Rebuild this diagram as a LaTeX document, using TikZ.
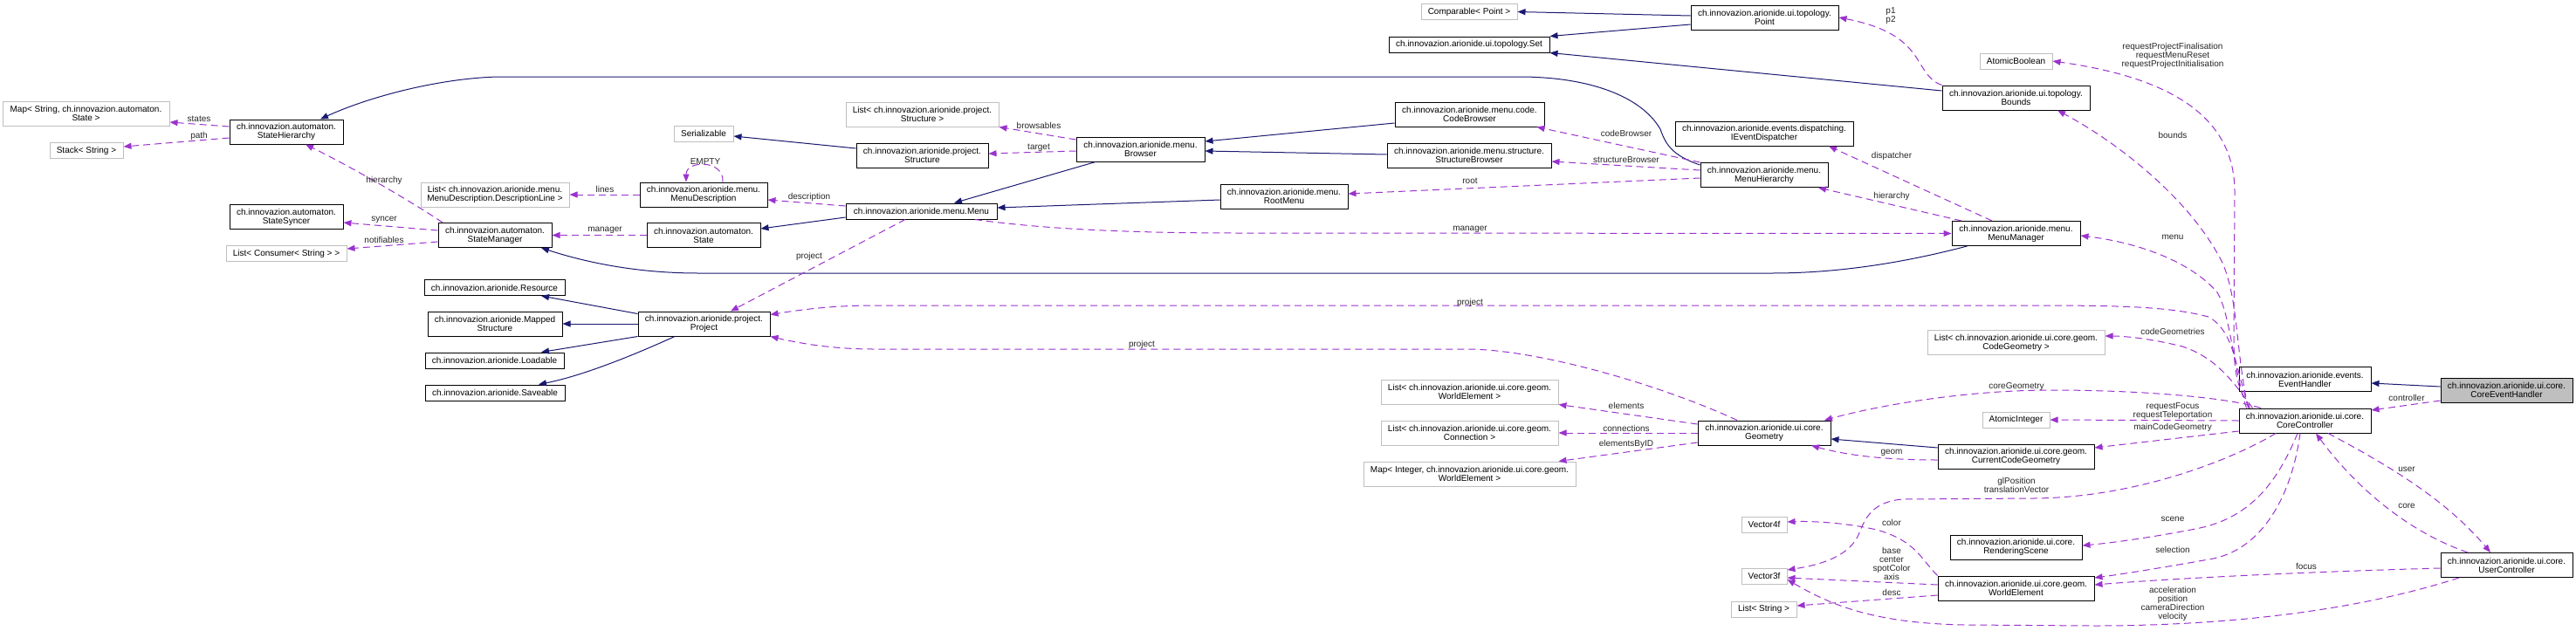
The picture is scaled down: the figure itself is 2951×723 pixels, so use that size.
\documentclass[tikz,border=0pt]{standalone}
\usepackage{fontspec}
\setmainfont{Liberation Sans}
\usetikzlibrary{arrows.meta}
\definecolor{inhblue}{HTML}{191970}
\definecolor{usepurple}{HTML}{9A32CD}
\definecolor{extgray}{HTML}{BFBFBF}

\begin{document}
\begin{tikzpicture}[x=1pt, y=-1pt,
    every node/.style={font=\fontsize{10}{10}\selectfont, align=center},
    cls/.style={draw=black, fill=white, line width=1pt, inner sep=0pt, minimum height=28pt},
    ext/.style={cls, draw=extgray},
    cur/.style={cls, fill=extgray},
    single/.style={minimum height=18pt},
    inherit/.style={draw=inhblue, line width=1pt, -{Triangle[length=9pt,width=7pt]}},
    uses/.style={draw=usepurple, line width=1pt, dash pattern=on 8pt off 5pt, -{Triangle[length=9pt,width=7pt]}},
    lbl/.style={inner sep=0pt, text=black!85}]

    \useasboundingbox (0,0) rectangle (2951,723);

    % automaton
    \node[ext, minimum width=191pt] (mapstate) at (98.5,130) {Map< String, ch.innovazion.automaton.\\State >};
    \node[ext, single, minimum width=84pt] (stack) at (99,172.5) {Stack< String >};
    \node[cls, minimum width=130pt] (sthier) at (328,151) {ch.innovazion.automaton.\\StateHierarchy};
    \node[cls, minimum width=130pt] (ssync) at (328,248.5) {ch.innovazion.automaton.\\StateSyncer};
    \node[ext, single, minimum width=138pt] (consumers) at (328,290.5) {List< Consumer< String > >};
    \node[cls, minimum width=130pt] (smgr) at (567,269.5) {ch.innovazion.automaton.\\StateManager};
    \node[cls, minimum width=130pt] (state) at (806,269.5) {ch.innovazion.automaton.\\State};

    % menu
    \node[ext, single, minimum width=68pt] (serial) at (806,153) {Serializable};
    \node[cls, minimum width=146pt] (mdesc) at (806,223) {ch.innovazion.arionide.menu.\\MenuDescription};
    \node[ext, minimum width=170pt] (dline) at (567,223) {List< ch.innovazion.arionide.menu.\\MenuDescription.DescriptionLine >};
    \node[ext, minimum width=175pt] (structlist) at (1056.5,131) {List< ch.innovazion.arionide.project.\\Structure >};
    \node[cls, minimum width=151pt] (structure) at (1056.5,178) {ch.innovazion.arionide.project.\\Structure};
    \node[cls, minimum width=147pt] (browser) at (1306.5,171) {ch.innovazion.arionide.menu.\\Browser};
    \node[cls, single, minimum width=173pt] (menu) at (1055.5,242) {ch.innovazion.arionide.menu.Menu};
    \node[cls, minimum width=146pt] (rootmenu) at (1471,225) {ch.innovazion.arionide.menu.\\RootMenu};
    \node[cls, minimum width=171pt] (codebr) at (1683.5,131) {ch.innovazion.arionide.menu.code.\\CodeBrowser};
    \node[cls, minimum width=188pt] (structbr) at (1683,178) {ch.innovazion.arionide.menu.structure.\\StructureBrowser};
    \node[cls, minimum width=146pt] (menuhier) at (2021,200.5) {ch.innovazion.arionide.menu.\\MenuHierarchy};
    \node[cls, minimum width=204pt] (dispatcher) at (2021,153) {ch.innovazion.arionide.events.dispatching.\\IEventDispatcher};
    \node[cls, minimum width=147pt] (menumgr) at (2309.5,267.5) {ch.innovazion.arionide.menu.\\MenuManager};

    % project
    \node[cls, single, minimum width=161pt] (resource) at (566.5,329.5) {ch.innovazion.arionide.Resource};
    \node[cls, minimum width=154pt] (mapped) at (567,371) {ch.innovazion.arionide.Mapped\\Structure};
    \node[cls, minimum width=151pt] (project) at (806.5,371) {ch.innovazion.arionide.project.\\Project};
    \node[cls, single, minimum width=159pt] (loadable) at (566.5,413) {ch.innovazion.arionide.Loadable};
    \node[cls, single, minimum width=160pt] (saveable) at (567,450) {ch.innovazion.arionide.Saveable};

    % topology
    \node[ext, single, minimum width=110pt] (comparable) at (1683,13.5) {Comparable< Point >};
    \node[cls, single, minimum width=184pt] (set) at (1683,51) {ch.innovazion.arionide.ui.topology.Set};
    \node[cls, minimum width=169pt] (point) at (2021.5,20) {ch.innovazion.arionide.ui.topology.\\Point};
    \node[cls, minimum width=169pt] (bounds) at (2309.5,112) {ch.innovazion.arionide.ui.topology.\\Bounds};
    \node[ext, single, minimum width=83pt] (atombool) at (2309.5,70) {AtomicBoolean};

    % ui.core
    \node[ext, minimum width=203pt] (welist) at (1683.5,449) {List< ch.innovazion.arionide.ui.core.geom.\\WorldElement >};
    \node[ext, minimum width=203pt] (connlist) at (1683.5,496) {List< ch.innovazion.arionide.ui.core.geom.\\Connection >};
    \node[ext, minimum width=243pt] (wemap) at (1683.5,543) {Map< Integer, ch.innovazion.arionide.ui.core.geom.\\WorldElement >};
    \node[cls, minimum width=152pt] (geometry) at (2021,496) {ch.innovazion.arionide.ui.core.\\Geometry};
    \node[ext, minimum width=203pt] (cgeolist) at (2309.5,392.5) {List< ch.innovazion.arionide.ui.core.geom.\\CodeGeometry >};
    \node[ext, single, minimum width=77pt] (atomint) at (2309.5,481) {AtomicInteger};
    \node[cls, minimum width=179pt] (curcode) at (2309.5,523) {ch.innovazion.arionide.ui.core.geom.\\CurrentCodeGeometry};
    \node[ext, single, minimum width=52pt] (vecfour) at (2021,601) {Vector4f};
    \node[cls, minimum width=151pt] (scene) at (2309.5,627) {ch.innovazion.arionide.ui.core.\\RenderingScene};
    \node[ext, single, minimum width=52pt] (vecthree) at (2021,660) {Vector3f};
    \node[cls, minimum width=179pt] (worldel) at (2309.5,674) {ch.innovazion.arionide.ui.core.geom.\\WorldElement};
    \node[ext, single, minimum width=75pt] (strlist) at (2020.5,698) {List< String >};
    \node[cls, minimum width=151pt] (evhandler) at (2640.5,434.5) {ch.innovazion.arionide.events.\\EventHandler};
    \node[cur, minimum width=151pt] (cevhandler) at (2871.5,447) {ch.innovazion.arionide.ui.core.\\CoreEventHandler};
    \node[cls, minimum width=151pt] (corectrl) at (2640.5,482) {ch.innovazion.arionide.ui.core.\\CoreController};
    \node[cls, minimum width=151pt] (userctrl) at (2871.5,647.5) {ch.innovazion.arionide.ui.core.\\UserController};

    % inheritance
    \draw[inherit] ([yshift=-3pt]menuhier.north west) .. controls (1915,178) and (1908,165) .. (1902,148)
        .. controls (1880,110) and (1820,88) .. (1740,88) -- (570,88)
        .. controls (500,90) and (420,112) .. ([xshift=39pt]sthier.north);
    \draw[inherit] ([xshift=-56pt]menumgr.south) .. controls (2200,296) and (2120,313) .. (2030,313) -- (800,313)
        .. controls (720,313) and (660,297) .. ([xshift=53pt]smgr.south);
    \draw[inherit] ([xshift=-51.5pt]browser.south) -- ([xshift=37.5pt]menu.north);
    \draw[inherit] ([yshift=-4pt]rootmenu.west) -- ([yshift=4pt]menu.east);
    \draw[inherit] ([yshift=-7pt]menu.west) -- ([yshift=7.5pt]state.east);
    \draw[inherit] ([yshift=8pt]structure.west) -- ([yshift=-3pt]serial.east);
    \draw[inherit] ([yshift=-10pt]codebr.west) -- ([yshift=9pt]browser.east);
    \draw[inherit] ([yshift=1pt]structbr.west) -- ([yshift=-2pt]browser.east);
    \draw[inherit] ([yshift=2pt]point.west) -- (comparable.east);
    \draw[inherit] ([yshift=-8pt]point.west) -- (set.north east);
    \draw[inherit] ([yshift=8pt]bounds.west) -- (set.south east);
    \draw[inherit] ([yshift=-3pt]project.north west) -- ([xshift=53.5pt]resource.south);
    \draw[inherit] (project.west) -- (mapped.east);
    \draw[inherit] (project.south west) -- ([xshift=53.5pt]loadable.north);
    \draw[inherit] ([xshift=-33.5pt]project.south) .. controls (730,405) and (670,430) .. ([xshift=50pt]saveable.north);
    \draw[inherit] ([yshift=10pt]curcode.west) -- ([yshift=-7pt]geometry.east);
    \draw[inherit] ([yshift=4pt]cevhandler.west) -- ([yshift=-4.5pt]evhandler.east);

    % members
    \draw[uses] ([yshift=6pt]sthier.west) -- ([yshift=-10pt]mapstate.east);
    \draw[uses] ([yshift=-7pt]sthier.west) -- ([yshift=4.5pt]stack.east);
    \draw[uses] ([xshift=-60pt]smgr.north) .. controls (470,230) and (400,190) .. ([xshift=22pt]sthier.south);
    \draw[uses] ([yshift=5.5pt]smgr.west) -- ([yshift=-6.5pt]ssync.east);
    \draw[uses] ([yshift=-7.5pt]smgr.west) -- ([yshift=5.5pt]consumers.east);
    \draw[uses] (mdesc.west) -- (dline.east);
    \draw[uses] ([xshift=22pt]mdesc.north) .. controls (830,183) and (786,183) .. ([xshift=-20pt]mdesc.north);
    \draw[uses] ([yshift=6pt]menu.west) -- ([yshift=-6pt]mdesc.east);
    \draw[uses] (state.west) -- (smgr.east);
    \draw[uses] ([xshift=-18.5pt]menu.south) -- ([xshift=30.5pt]project.north);
    \draw[uses] ([yshift=11pt]browser.west) -- (structlist.south east);
    \draw[uses] ([yshift=-2pt]browser.west) -- ([yshift=2pt]structure.east);
    \draw[uses] (menuhier.north west) -- ([xshift=-9pt]codebr.south east);
    \draw[uses] ([yshift=5.5pt]menuhier.west) -- ([yshift=-7pt]structbr.east);
    \draw[uses] ([yshift=-3.5pt]menuhier.west) -- ([yshift=3pt]rootmenu.east);
    \draw[uses] ([xshift=61.5pt]menu.south) .. controls (1200,263) and (1300,267) .. (1420,267) -- (menumgr.west);
    \draw[uses] ([xshift=-27.5pt]menumgr.north) -- ([xshift=74pt]dispatcher.south);
    \draw[uses] ([xshift=-62.5pt]menumgr.north) -- ([xshift=62pt]menuhier.south);
    \draw[uses] (bounds.north west) .. controls (2190,85) and (2210,40) .. (point.east);

    % CoreController fan
    \draw[uses] ([xshift=-63pt]corectrl.north) .. controls (2560,440) and (2559,420) .. (2559,380) -- (2560,220)
        .. controls (2560,130) and (2480,88) .. (atombool.east);
    \draw[uses] ([xshift=-65pt]corectrl.north) .. controls (2560,400) and (2565,330) .. (2540,290)
        .. controls (2500,220) and (2420,160) .. ([xshift=47.5pt]bounds.south);
    \draw[uses] ([xshift=-67pt]corectrl.north) .. controls (2558,420) and (2555,360) .. (2540,335)
        .. controls (2510,300) and (2450,278) .. ([yshift=-2.5pt]menumgr.east);
    \draw[uses] ([xshift=-64pt]corectrl.north) .. controls (2560,420) and (2560,380) .. (2530,363)
        .. controls (2480,350) and (2420,350) .. (2300,350) -- (1000,350)
        .. controls (950,350) and (910,356) .. ([yshift=-4pt]project.north east);
    \draw[uses] ([xshift=-60pt]corectrl.north) .. controls (2560,440) and (2540,410) .. (2500,397)
        .. controls (2460,387) and (2430,385) .. ([yshift=7.5pt]cgeolist.east);
    \draw[uses] ([xshift=-50.5pt]corectrl.north) .. controls (2550,455) and (2450,447) .. (2350,447)
        .. controls (2250,447) and (2150,465) .. ([xshift=69pt]geometry.north);
    \draw[uses] (corectrl.west) -- (atomint.east);
    \draw[uses] ([yshift=-12pt]corectrl.west) -- ([yshift=10pt]curcode.east);
    \draw[uses] ([xshift=-33.5pt]corectrl.south) .. controls (2560,525) and (2450,570) .. (2330,571) -- (2180,572)
        .. controls (2140,575) and (2135,600) .. (2128,615)
        .. controls (2115,640) and (2080,648) .. ([yshift=7pt]vecthree.east);
    \draw[uses] ([xshift=-8.5pt]corectrl.south) .. controls (2610,550) and (2580,592) .. (2520,605)
        .. controls (2470,615) and (2420,622) .. ([yshift=2pt]scene.east);
    \draw[uses] ([xshift=-5.5pt]corectrl.south) .. controls (2625,570) and (2590,632) .. (2530,641)
        .. controls (2480,650) and (2430,658) .. ([yshift=12pt]worldel.east);
    \draw[uses] ([yshift=-3.5pt]userctrl.west) .. controls (2650,655) and (2500,662) .. ([yshift=4pt]worldel.east);
    \draw[uses] ([xshift=-54.5pt]userctrl.south) .. controls (2700,700) and (2550,717) .. (2400,717) -- (2250,716)
        .. controls (2150,714) and (2100,695) .. ([yshift=-4pt]vecthree.east);
    \draw[uses] ([xshift=-44.5pt]userctrl.north) .. controls (2760,610) and (2700,560) .. ([xshift=12.5pt]corectrl.south);
    \draw[uses] ([xshift=26.5pt]corectrl.south) .. controls (2730,530) and (2800,570) .. ([xshift=-18.5pt]userctrl.north);
    \draw[uses] ([yshift=-12pt]cevhandler.west) -- ([yshift=12pt]corectrl.east);

    % geometry
    \draw[uses] ([yshift=-4pt]curcode.west) .. controls (2150,527) and (2110,520) .. ([xshift=54pt]geometry.south);
    \draw[uses] ([yshift=10pt]geometry.west) -- (welist.south east);
    \draw[uses] (geometry.west) -- (connlist.east);
    \draw[uses] ([yshift=-11pt]geometry.west) -- ([xshift=-20pt]wemap.north east);
    \draw[uses] ([xshift=-31pt]geometry.north) .. controls (1900,440) and (1760,400) .. (1680,400) -- (1000,400)
        .. controls (950,400) and (910,392) .. (project.south east);
    \draw[uses] (worldel.north west) .. controls (2200,640) and (2195,620) .. (2150,607)
        .. controls (2110,598) and (2070,597) .. ([yshift=3pt]vecfour.east);
    \draw[uses] ([yshift=4pt]worldel.west) -- ([yshift=-2pt]vecthree.east);
    \draw[uses] ([yshift=-8pt]worldel.west) -- ([yshift=4pt]strlist.east);

    % labels
    \node[lbl] (lstates) at (228,136) {states};
    \node[lbl] (lpath) at (228,156) {path};
    \node[lbl] (lhier) at (440,207) {hierarchy};
    \node[lbl] (lsyncer) at (440,252) {syncer};
    \node[lbl] (lnotif) at (440,275) {notifiables};
    \node[lbl] (llines) at (693,217) {lines};
    \node[lbl] (lempty) at (808,185) {EMPTY};
    \node[lbl] (ldesc) at (927,226) {description};
    \node[lbl] (lmanager) at (693,264) {manager};
    \node[lbl] (lprojmenu) at (927,294) {project};
    \node[lbl] (lbrows) at (1190,144) {browsables};
    \node[lbl] (ltarget) at (1190,169) {target};
    \node[lbl] (lcodebr) at (1863,153) {codeBrowser};
    \node[lbl] (lstructbr) at (1863,183) {structureBrowser};
    \node[lbl] (lroot) at (1684,207) {root};
    \node[lbl] (lmenumgr) at (1684,263) {manager};
    \node[lbl] (lprojcore) at (1684,347) {project};
    \node[lbl] (lp) at (2166,18) {p1\\p2};
    \node[lbl] (ldispatch) at (2167,179) {dispatcher};
    \node[lbl] (lmhier) at (2167,225) {hierarchy};
    \node[lbl] (lrequests) at (2489,64) {requestProjectFinalisation\\requestMenuReset\\requestProjectInitialisation};
    \node[lbl] (lbounds) at (2489,155) {bounds};
    \node[lbl] (lmenu) at (2489,272) {menu};
    \node[lbl] (lprojgeo) at (1308,395) {project};
    \node[lbl] (lelements) at (1863,465) {elements};
    \node[lbl] (lconn) at (1863,491) {connections};
    \node[lbl] (lbyid) at (1863,509) {elementsByID};
    \node[lbl] (lcodegeos) at (2489,380) {codeGeometries};
    \node[lbl] (lcoregeo) at (2310,443) {coreGeometry};
    \node[lbl] (lreqfocus) at (2489,471) {requestFocus\\requestTeleportation};
    \node[lbl] (lmaincode) at (2489,490) {mainCodeGeometry};
    \node[lbl] (lgeom) at (2167,519) {geom};
    \node[lbl] (lglpos) at (2310,556) {glPosition\\translationVector};
    \node[lbl] (lcolor) at (2167,599) {color};
    \node[lbl] (lbase) at (2167,646) {base\\center\\spotColor\\axis};
    \node[lbl] (ldescr) at (2167,679) {desc};
    \node[lbl] (lscene) at (2489,595) {scene};
    \node[lbl] (lselect) at (2489,630) {selection};
    \node[lbl] (lfocus) at (2642,649) {focus};
    \node[lbl] (lmotion) at (2489,692) {acceleration\\position\\cameraDirection\\velocity};
    \node[lbl] (lcontroller) at (2757,456) {controller};
    \node[lbl] (luser) at (2757,538) {user};
    \node[lbl] (lcore) at (2757,580) {core};
\end{tikzpicture}
\end{document}
